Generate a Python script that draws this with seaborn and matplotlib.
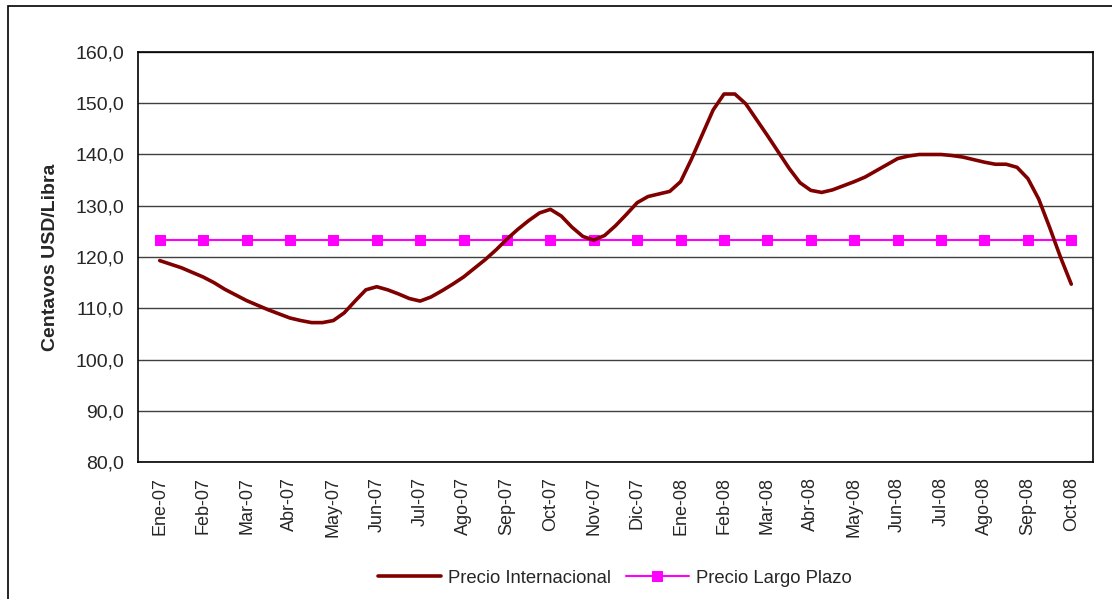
import matplotlib

matplotlib.use("Agg")
import matplotlib.pyplot as plt
import numpy as np
import pandas as pd
import seaborn as sns
from matplotlib.patches import Rectangle

meses = [
    "Ene-07", "Feb-07", "Mar-07", "Abr-07", "May-07", "Jun-07", "Jul-07", "Ago-07",
    "Sep-07", "Oct-07", "Nov-07", "Dic-07", "Ene-08", "Feb-08", "Mar-08", "Abr-08",
    "May-08", "Jun-08", "Jul-08", "Ago-08", "Sep-08", "Oct-08",
]

# Precio internacional, weekly readings (four per month)
precio_internacional = [
    119.3, 118.6, 117.9, 117.0, 116.1, 115.0, 113.7, 112.6, 111.5, 110.6,
    109.7, 108.9, 108.1, 107.6, 107.2, 107.2, 107.6, 109.1, 111.4, 113.6,
    114.2, 113.6, 112.8, 111.9, 111.4, 112.2, 113.4, 114.7, 116.1, 117.8,
    119.5, 121.4, 123.5, 125.4, 127.1, 128.6, 129.3, 128.0, 125.8, 124.0,
    123.3, 124.2, 126.1, 128.3, 130.6, 131.8, 132.3, 132.8, 134.7, 139.1,
    143.9, 148.7, 151.8, 151.8, 149.9, 146.8, 143.7, 140.5, 137.3, 134.5,
    133.0, 132.6, 133.1, 133.9, 134.7, 135.6, 136.8, 138.0, 139.2, 139.7,
    140.0, 140.0, 140.0, 139.8, 139.5, 139.0, 138.5, 138.1, 138.1, 137.5,
    135.3, 131.3, 125.8, 120.0, 114.7,
]

precio_largo_plazo = [
    123.3, 123.3, 123.3, 123.3, 123.3, 123.3, 123.3, 123.3, 123.3, 123.3, 123.3,
    123.3, 123.3, 123.3, 123.3, 123.3, 123.3, 123.3, 123.3, 123.3, 123.3, 123.3,
]

df_int = pd.DataFrame({
    "mes": np.arange(len(precio_internacional)) / 4.0,
    "precio": precio_internacional,
})
df_lp = pd.DataFrame({"mes": np.arange(len(meses)), "precio": precio_largo_plazo})

sns.set_style("white")
plt.rcParams["font.family"] = ["Liberation Sans Narrow", "Liberation Sans", "DejaVu Sans"]

fig = plt.figure(figsize=(11.12, 5.99), dpi=100)
ax = fig.add_axes([0.1241, 0.2287, 0.8588, 0.6845])

# outer chart frame (Excel style)
fig.patches.append(Rectangle((0.0072, -0.1), 1.2, 1.09, transform=fig.transFigure,
                             fill=False, edgecolor="black", linewidth=1.2))

for v in range(80, 161, 10):
    ax.axhline(v, color="#404040", linewidth=1.0, zorder=0)

sns.lineplot(data=df_int, x="mes", y="precio", color="#800000", linewidth=2.6,
             ax=ax, label="Precio Internacional", zorder=3)
sns.lineplot(data=df_lp, x="mes", y="precio", color="#FF00FF", linewidth=1.5,
             marker="s", markersize=7, markeredgecolor="#FF00FF",
             ax=ax, label="Precio Largo Plazo", zorder=2)

ax.set_xlim(-0.5, len(meses) - 0.5)
ax.set_ylim(80, 160)
ax.set_yticks(range(80, 161, 10))
ax.set_yticklabels([f"{v},0" for v in range(80, 161, 10)], fontsize=14)
ax.set_xticks(np.arange(len(meses)))
ax.set_xticklabels(meses, rotation=90, fontsize=13)
ax.set_xticks(np.arange(len(meses) + 1) - 0.5, minor=True)
ax.tick_params(axis="x", which="major", length=0, pad=11)
ax.tick_params(axis="x", which="minor", length=6, width=1, color="black", direction="out")
ax.tick_params(axis="y", length=6, width=1, color="black", direction="out", pad=4)
ax.set_xlabel("")
ax.set_ylabel("Centavos USD/Libra", fontsize=14, fontweight="bold", labelpad=12)

for s in ax.spines.values():
    s.set_color("black")
    s.set_linewidth(1.2)

ax.get_legend().remove()
handles, labels = ax.get_legend_handles_labels()
fig.legend(handles, labels, loc="center", bbox_to_anchor=(0.553, 0.035), ncol=2,
           frameon=False, fontsize=13.3, handlelength=3.4, columnspacing=0.8,
           handletextpad=0.4)

plt.savefig("out.png", dpi=100)
plt.close()
